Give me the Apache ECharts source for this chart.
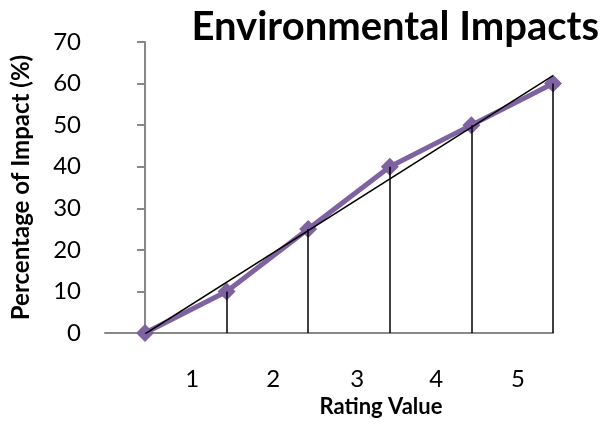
<!DOCTYPE html>
<html>
<head>
<meta charset="utf-8">
<script src="https://cdn.jsdelivr.net/npm/echarts@6/dist/echarts.min.js"></script>
<style>
  html, body { margin: 0; padding: 0; background: #fff; }
  #chart { width: 613px; height: 424px; }
</style>
</head>
<body>
<div id="chart"></div>
<script>
// Rating categories shown under the x axis
const ratingLabels = ['1', '2', '3', '4', '5'];
// Where each rating label sits along the point index scale
const ratingLabelPos = [0.58, 1.57, 2.6, 3.57, 4.57];
// Point positions (index) and impact percentages
const pointIndex = [0, 1, 2, 3, 4, 5];
const impactPct = [0, 10, 25, 40, 50, 60];
// Y axis ticks
const yTicks = { min: 0, max: 70, step: 10 };

// Least-squares linear trend of the impact series
function linearTrend(xs, ys) {
  const n = xs.length;
  const mx = xs.reduce((a, b) => a + b, 0) / n;
  const my = ys.reduce((a, b) => a + b, 0) / n;
  let sxy = 0, sxx = 0;
  for (let i = 0; i < n; i++) {
    sxy += (xs[i] - mx) * (ys[i] - my);
    sxx += (xs[i] - mx) * (xs[i] - mx);
  }
  const slope = sxy / sxx;
  const icpt = my - slope * mx;
  return [xs[0], xs[n - 1]].map(x => [x, icpt + slope * x]);
}

const chart = echarts.init(document.getElementById('chart'), null, { renderer: 'canvas' });
const FONT = 'Lato';
const AXIS_GRAY = '#888888';

const points = pointIndex.map((x, i) => [x, impactPct[i]]);
const dropLines = points.filter(p => p[1] > 0).map(p => [
  { coord: [p[0], 0] },
  { coord: [p[0], p[1]] }
]);

chart.setOption({
  animation: false,
  backgroundColor: '#ffffff',
  title: {
    text: 'Environmental Impacts',
    right: 9,
    top: 2,
    textStyle: { fontFamily: FONT, fontWeight: 'bold', fontSize: 40, color: '#000' }
  },
  grid: { left: 105, right: 60, top: 42, bottom: 91, containLabel: false, outerBoundsMode: 'none' },
  xAxis: {
    type: 'value',
    min: -0.49,
    max: 5,
    splitLine: { show: false },
    axisLine: { show: true, onZero: false, lineStyle: { color: AXIS_GRAY, width: 2 } },
    axisTick: { show: false },
    axisLabel: {
      show: true,
      customValues: ratingLabelPos,
      margin: 34,
      fontFamily: FONT,
      fontSize: 24,
      color: '#000',
      formatter: function (v) {
        const i = ratingLabelPos.indexOf(v);
        return i >= 0 ? ratingLabels[i] : '';
      }
    },
    name: 'Rating Value',
    nameLocation: 'middle',
    nameGap: 63,
    nameTextStyle: { fontFamily: FONT, fontWeight: 'bold', fontSize: 22, color: '#000', padding: [0, 0, 0, 104] }
  },
  yAxis: {
    type: 'value',
    min: yTicks.min,
    max: yTicks.max,
    interval: yTicks.step,
    splitLine: { show: false },
    axisLine: { show: true, lineStyle: { color: AXIS_GRAY, width: 2 } },
    axisTick: { show: true, length: 8, lineStyle: { color: AXIS_GRAY, width: 2 } },
    axisLabel: { margin: 24, fontFamily: FONT, fontSize: 24, color: '#000' },
    name: 'Percentage of Impact (%)',
    nameLocation: 'middle',
    nameGap: 62,
    nameTextStyle: { fontFamily: FONT, fontWeight: 'bold', fontSize: 24, color: '#000', padding: [0, 0, 10, 0] }
  },
  series: [
    {
      type: 'line',
      data: points,
      symbol: 'diamond',
      symbolSize: [18, 18],
      lineStyle: { color: '#7f62a1', width: 5 },
      itemStyle: { color: '#7f62a1' },
      z: 2,
      markLine: {
        silent: true,
        symbol: ['none', 'none'],
        lineStyle: { color: '#000', width: 1.5, type: 'solid' },
        label: { show: false },
        data: dropLines,
        z: 3
      }
    },
    {
      type: 'line',
      data: linearTrend(pointIndex, impactPct),
      symbol: 'none',
      lineStyle: { color: '#000', width: 1.5 },
      z: 4
    }
  ]
});
</script>
</body>
</html>
